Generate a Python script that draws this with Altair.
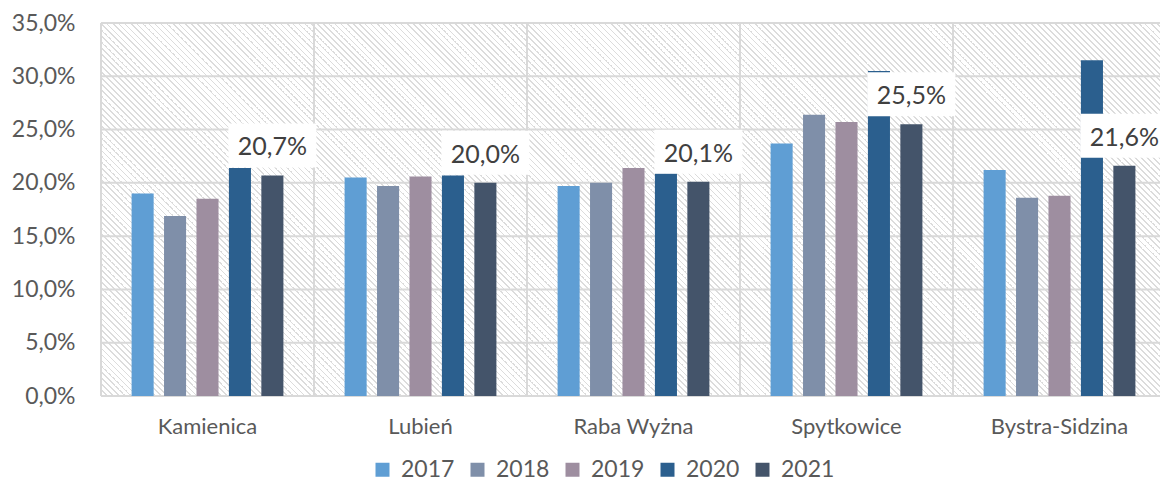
import altair as alt
import pandas as pd

categories = ["Kamienica", "Lubień", "Raba Wyżna", "Spytkowice", "Bystra-Sidzina"]
years = ["2017", "2018", "2019", "2020", "2021"]
v2017 = [19.0, 20.5, 19.7, 23.7, 21.2]
v2018 = [16.9, 19.7, 20.0, 26.4, 18.6]
v2019 = [18.5, 20.6, 21.4, 25.7, 18.8]
v2020 = [21.4, 20.7, 20.9, 30.5, 31.5]
v2021 = [20.7, 20.0, 20.1, 25.5, 21.6]
y_ticks = [0, 5, 10, 15, 20, 25, 30, 35]
colors = ["#5F9ED4", "#7F8FA9", "#9E8EA0", "#2B5F8E", "#44546A"]
label_year = "2021"

series = {"2017": v2017, "2018": v2018, "2019": v2019, "2020": v2020, "2021": v2021}
rows = []
for yr in years:
    for cat, v in zip(categories, series[yr]):
        rows.append({"category": cat, "year": yr, "value": v,
                     "label": f"{v:.1f}".replace(".", ",") + "%"})
df = pd.DataFrame(rows)
df_lab = df[df["year"] == label_year]
df_ticks = pd.DataFrame({"value": y_ticks})
df_cats = pd.DataFrame({"category": categories})

PLOT_W = 1059      # visible plot width (page is 1152 px wide inside margins)
RANGE_W = 1065     # full category range; the last band runs just past the visible edge
PLOT_H = 373
GRID = "#d9d9d9"
TXT = "#595959"
FONT = "Lato"

xscale = alt.Scale(domain=categories, range=[0, RANGE_W], paddingInner=0, paddingOuter=0)
yscale = alt.Scale(domain=[0, 35], nice=False)
xoff = alt.Scale(domain=years, paddingInner=0.32, paddingOuter=0.943)

xaxis = alt.Axis(labelFont=FONT, labelFontSize=22, labelColor=TXT, labelAngle=0,
                 domain=False, ticks=False, grid=False, labelPadding=20,
                 labelBaseline="top")
yaxis = alt.Axis(values=y_ticks, labelFont=FONT, labelFontSize=23, labelColor=TXT,
                 domain=False, ticks=False, grid=False, labelPadding=26,
                 labelExpr="replace(format(datum.value, '.1f'), '.', ',') + '%'")

X = alt.X("category:N", scale=xscale, sort=categories, title=None, axis=xaxis)
Y = alt.Y("value:Q", scale=yscale, title=None, axis=yaxis)
XO = alt.XOffset("year:N", scale=xoff, sort=years)

# hatch texture via sharp-stop gradient
N = 358
stops = []
for k in range(N):
    a = k / N
    b = (k + 0.72) / N
    c = (k + 1) / N
    stops += [{"offset": a, "color": "#ffffff"}, {"offset": b, "color": "#ffffff"},
              {"offset": b, "color": "#dcdcdc"}, {"offset": c, "color": "#dcdcdc"}]
grad = alt.LinearGradient(gradient="linear", x1=0, y1=1, x2=1, y2=0, stops=stops)

bg = alt.Chart(df_cats).mark_rect(color=grad, clip=True).encode(
    x=alt.value(0), x2=alt.value(1074), y=alt.value(0), y2=alt.value(1074)
).transform_filter(alt.datum.category == categories[0])

hgrid = alt.Chart(df_ticks).mark_rule(color=GRID, strokeWidth=2).encode(y=Y)
vgrid = alt.Chart(df_cats).mark_rule(color=GRID, strokeWidth=2).encode(
    x=alt.X("category:N", scale=xscale, sort=categories, title=None, axis=xaxis,
            bandPosition=0)
)

bars = alt.Chart(df).mark_bar().encode(
    x=X, xOffset=XO, y=Y,
    color=alt.Color("year:N", scale=alt.Scale(domain=years, range=colors), sort=years,
                    legend=alt.Legend(title=None, orient="none", legendX=270, legendY=435,
                                      direction="horizontal", symbolType="square",
                                      symbolSize=196, symbolStrokeWidth=0, labelFont=FONT,
                                      labelFontSize=23, labelColor=TXT, labelOffset=7,
                                      columnPadding=11, padding=0)),
)

boxes = alt.Chart(df_lab).mark_point(
    shape="M-1,-0.5L1,-0.5L1,0.5L-1,0.5Z", size=7744, filled=True, color="white",
    opacity=1, strokeWidth=0, yOffset=-30
).encode(x=X, xOffset=XO, y=Y)

labels = alt.Chart(df_lab).mark_text(
    font=FONT, fontSize=25, color="#404040", baseline="alphabetic", dy=-20
).encode(x=X, xOffset=XO, y=Y, text="label:N")

chart = alt.layer(bg, hgrid, vgrid, bars, boxes, labels).properties(
    width=PLOT_W, height=PLOT_H,
    autosize=alt.AutoSizeParams(type="none"),
    padding={"left": 93, "top": 15, "right": 0, "bottom": 87},
).configure_view(stroke=None).configure(background="white")

chart.save("out.html", embed_options={"renderer": "svg", "actions": False})
